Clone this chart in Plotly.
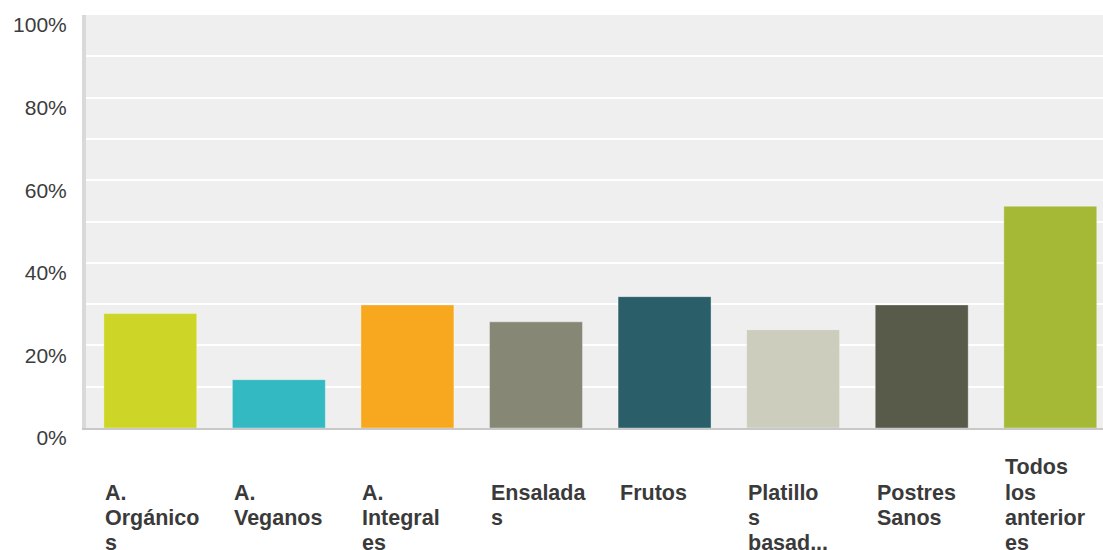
import plotly.graph_objects as go

categories = ["A. Orgánicos", "A. Veganos", "A. Integrales", "Ensaladas",
              "Frutos", "Platillos basad...", "Postres Sanos", "Todos los anteriores"]
tick_labels = ["A.<br>Orgánico<br>s", "A.<br>Veganos", "A.<br>Integral<br>es",
               "Ensalada<br>s", "Frutos", "Platillo<br>s<br>basad...",
               "Postres<br>Sanos", "Todos<br>los<br>anterior<br>es"]
values = [27.7, 11.7, 29.8, 25.7, 31.8, 23.8, 29.8, 53.7]
colors = ["#cdd527", "#33b9c2", "#f7a81e", "#878775",
          "#2a5f6a", "#cccdbd", "#585a4a", "#a5b937"]
y_ticks = [0, 20, 40, 60, 80, 100]
y_tick_text = ["0%", "20%", "40%", "60%", "80%", "100%"]

fig = go.Figure(go.Bar(
    x=categories, y=values,
    marker=dict(color=colors, line=dict(color="rgba(255,255,255,0.35)", width=1)),
    hovertemplate="%{x}: %{y}%<extra></extra>",
))

font_family = "Helvetica, Arial, 'Liberation Sans', sans-serif"
LINE_H = 25.3
FIRST_LINE = -64.5
annotations = []
for cat, lab in zip(categories, tick_labels):
    lines = lab.split("<br>")
    extra = max(0, len(lines) - 3)
    for i, line in enumerate(lines):
        annotations.append(dict(
            x=cat, y=0, xref="x", yref="y", text=line, showarrow=False,
            xanchor="left", yanchor="middle", align="left",
            xshift=-47, yshift=FIRST_LINE + (extra - i) * LINE_H,
            font=dict(family=font_family, size=21.5, color="#3a3a3a", weight="bold"),
        ))

fig.update_layout(
    width=1103, height=550,
    margin=dict(l=86, r=0, t=15, b=122, autoexpand=False),
    paper_bgcolor="white", plot_bgcolor="#efefef",
    bargap=0.277, showlegend=False,
    font=dict(family=font_family, color="#3c3c3c"),
    annotations=annotations,
    xaxis=dict(
        type="category", range=[-0.5, 7.41], showticklabels=False,
        showgrid=False, showline=True, linecolor="#c8c8c8", linewidth=2,
        ticks="", fixedrange=True, automargin=False,
    ),
    yaxis=dict(
        range=[0, 100], tickvals=y_ticks, ticktext=y_tick_text,
        showgrid=True, gridcolor="white", gridwidth=2,
        minor=dict(dtick=10, showgrid=True, gridcolor="white", gridwidth=2),
        showline=True, linecolor="#d9d9d9", linewidth=4,
        zeroline=False, ticks="", ticklabelstandoff=11, ticklabelshift=10,
        tickfont=dict(size=21, color="#3c3c3c"), fixedrange=True,
        automargin=False,
    ),
)

fig.write_html("out.html", config={"displayModeBar": False},
               post_script="document.body.style.margin='0';")
